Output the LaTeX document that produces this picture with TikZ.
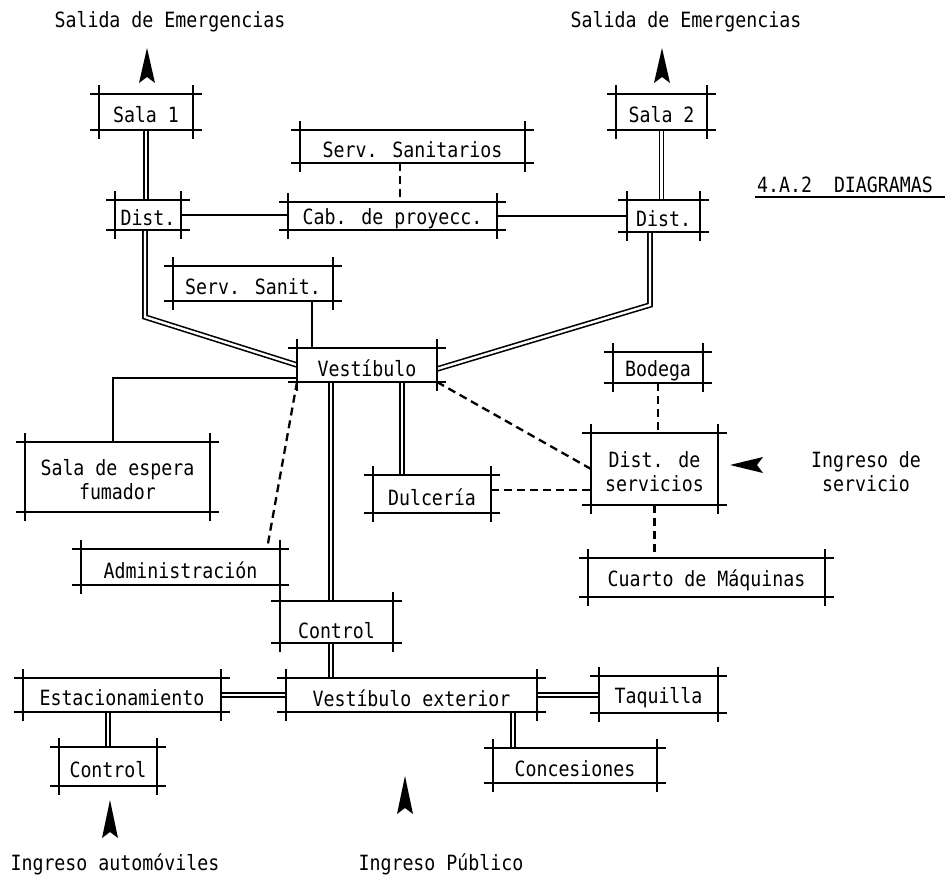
\documentclass[tikz,border=0pt]{standalone}
\usepackage{fontspec}
\newfontfamily\tw[FakeStretch=0.87]{DejaVu Sans Mono}
\usetikzlibrary{fit,calc}
\pgfdeclarelayer{bg}
\pgfsetlayers{bg,main}
\tikzset{
  txt/.style={font=\tw\fontsize{21}{24}\selectfont, align=center, inner sep=0pt},
  boxline/.style={line width=2pt},
  abox/.style={draw=none, outer sep=0pt, inner sep=0pt,
    append after command={
      ([xshift=-9pt]\tikzlastnode.north west) edge[boxline] ([xshift=9pt]\tikzlastnode.north east)
      ([xshift=-9pt]\tikzlastnode.south west) edge[boxline] ([xshift=9pt]\tikzlastnode.south east)
      ([yshift=9pt]\tikzlastnode.north west) edge[boxline] ([yshift=-9pt]\tikzlastnode.south west)
      ([yshift=9pt]\tikzlastnode.north east) edge[boxline] ([yshift=-9pt]\tikzlastnode.south east)
    }},
  lab/.style={txt, yshift=-3pt},
  conn/.style={line width=2pt},
  dbl/.style={double=white, double distance=2.4pt, line width=1.6pt},
  dsh/.style={line width=2.3pt, dash pattern=on 8pt off 5pt},
  spike/.style={fill=black}
}
\begin{document}
\begin{tikzpicture}[x=1pt,y=-1pt]
\begin{pgfonlayer}{bg}
\fill[white] (0,0) rectangle (946,886);
\end{pgfonlayer}
\useasboundingbox (0,0) rectangle (946,886);

% boxes
\node[abox, fit={(99,94) (193,130)}, label={[lab]center:Sala 1}] (sala1) {};
\node[abox, fit={(616,94) (707,130)}, label={[lab]center:Sala 2}] (sala2) {};
\node[abox, fit={(300,130) (525,163)}, label={[lab]center:Serv. Sanitarios}] (servsan) {};
\node[abox, fit={(115,200) (181,230)}, label={[lab]center:Dist.}] (dist1) {};
\node[abox, fit={(288,202) (497,230)}, label={[lab]center:Cab. de proyecc.}] (cab) {};
\node[abox, fit={(627,200) (700,232)}, label={[lab]center:Dist.}] (dist2) {};
\node[abox, fit={(173,266) (333,301)}, label={[lab]center:Serv. Sanit.}] (servsanit) {};
\node[abox, fit={(297,348) (437,382)}, label={[lab]center:Vestíbulo}] (vest) {};
\node[abox, fit={(613,352) (703,383)}, label={[lab]center:Bodega}] (bodega) {};
\node[abox, fit={(25,442) (210,512)}, label={[lab]center:Sala de espera\\fumador}] (espera) {};
\node[abox, fit={(373,475) (491,513)}, label={[lab]center:Dulcería}] (dulceria) {};
\node[abox, fit={(591,433) (718,505)}, label={[lab]center:Dist. de\\servicios}] (distserv) {};
\node[abox, fit={(81,549) (280,585)}, label={[lab]center:Administración}] (admin) {};
\node[abox, fit={(588,558) (825,597)}, label={[lab]center:Cuarto de Máquinas}] (cuarto) {};
\node[abox, fit={(280,601) (393,643)}, label={[lab,yshift=-6pt]center:Control}] (control1) {};
\node[abox, fit={(23,678) (221,712)}, label={[lab]center:Estacionamiento}] (estac) {};
\node[abox, fit={(286,678) (537,712)}, label={[lab]center:Vestíbulo exterior}] (vestext) {};
\node[abox, fit={(599,676) (718,713)}, label={[lab]center:Taquilla}] (taquilla) {};
\node[abox, fit={(59,747) (157,786)}, label={[lab]center:Control}] (control2) {};
\node[abox, fit={(493,748) (657,783)}, label={[lab]center:Concesiones}] (concesiones) {};

% free texts
\node[txt] (t1) at (170,22) {Salida de Emergencias};
\node[txt] (t2) at (686,22) {Salida de Emergencias};
\node[txt] (t3) at (845,185) {4.A.2~~DIAGRAMAS};
\draw[line width=1.5pt] ($(t3.south west)+(-2,4)$) -- ($(t3.south east)+(12,4)$);
\node[txt] (t4) at (866,472) {Ingreso de\\servicio};
\node[txt] (t5) at (115,864) {Ingreso automóviles};
\node[txt] (t6) at (441,864) {Ingreso Público};

% arrowheads
\coordinate (a1) at (147,48);
\coordinate (a2) at (662,48);
\coordinate (a3) at (730,465);
\coordinate (a4) at (110,800);
\coordinate (a5) at (405,776);
\fill[spike] (a1) -- ++(8,35) -- ++(-8,-6) -- ++(-8,6) -- cycle;
\fill[spike] (a2) -- ++(8,35) -- ++(-8,-6) -- ++(-8,6) -- cycle;
\fill[spike] (a3) -- ++(33,-8) -- ++(-6,8) -- ++(6,8) -- cycle;
\fill[spike] (a4) -- ++(8,38) -- ++(-8,-6) -- ++(-8,6) -- cycle;
\fill[spike] (a5) -- ++(8,38) -- ++(-8,-6) -- ++(-8,6) -- cycle;

% helper coordinates
\coordinate (b1) at (145,317);
\coordinate (b2) at (650,305);
\coordinate (xs) at (400,0);
\coordinate (xsan) at (312,0);
\coordinate (c1) at (113,378);
\coordinate (xadm) at (267,0);
\coordinate (xctl) at (331,0);
\coordinate (xdul) at (402,0);
\coordinate (ydul) at (0,490);
\coordinate (xcon) at (513,0);

\begin{pgfonlayer}{bg}
\draw[dbl] (sala1.south) -- (sala1.south |- dist1.north);
\draw[dbl] (sala2.south) -- (sala2.south |- dist2.north);
\draw[dsh] (servsan.south -| xs) -- (cab.north -| xs);
\draw[conn] (dist1.east) -- (dist1.east -| cab.west);
\draw[conn] (cab.east) -- (cab.east -| dist2.west);
\draw[dbl] (dist1.south -| b1) -- (b1) -- (vest.west);
\draw[dbl] (dist2.south -| b2) -- (b2) -- ([yshift=-4pt]vest.east);
\draw[conn] (servsanit.south -| xsan) -- (vest.north -| xsan);
\draw[conn] (vest.west |- c1) -- (c1) -- (c1 |- espera.north);
\draw[dsh] (vest.south west) -- (admin.north -| xadm);
\draw[dbl] (vest.south -| xctl) -- (control1.north -| xctl);
\draw[dbl] (vest.south -| xdul) -- (dulceria.north -| xdul);
\draw[dsh] (vest.south east) -- (distserv.west);
\draw[dsh] (dulceria.east |- ydul) -- (distserv.west |- ydul);
\draw[dsh] (bodega.south) -- (bodega.south |- distserv.north);
\draw[dsh] (distserv.south) -- (distserv.south |- cuarto.north);
\draw[dbl] (control1.south -| xctl) -- (vestext.north -| xctl);
\draw[dbl] (estac.east) -- (estac.east -| vestext.west);
\draw[dbl] (vestext.east) -- (vestext.east -| taquilla.west);
\draw[dbl] (control2.north |- estac.south) -- (control2.north);
\draw[dbl] (vestext.south -| xcon) -- (concesiones.north -| xcon);
\end{pgfonlayer}
\end{tikzpicture}
\end{document}
